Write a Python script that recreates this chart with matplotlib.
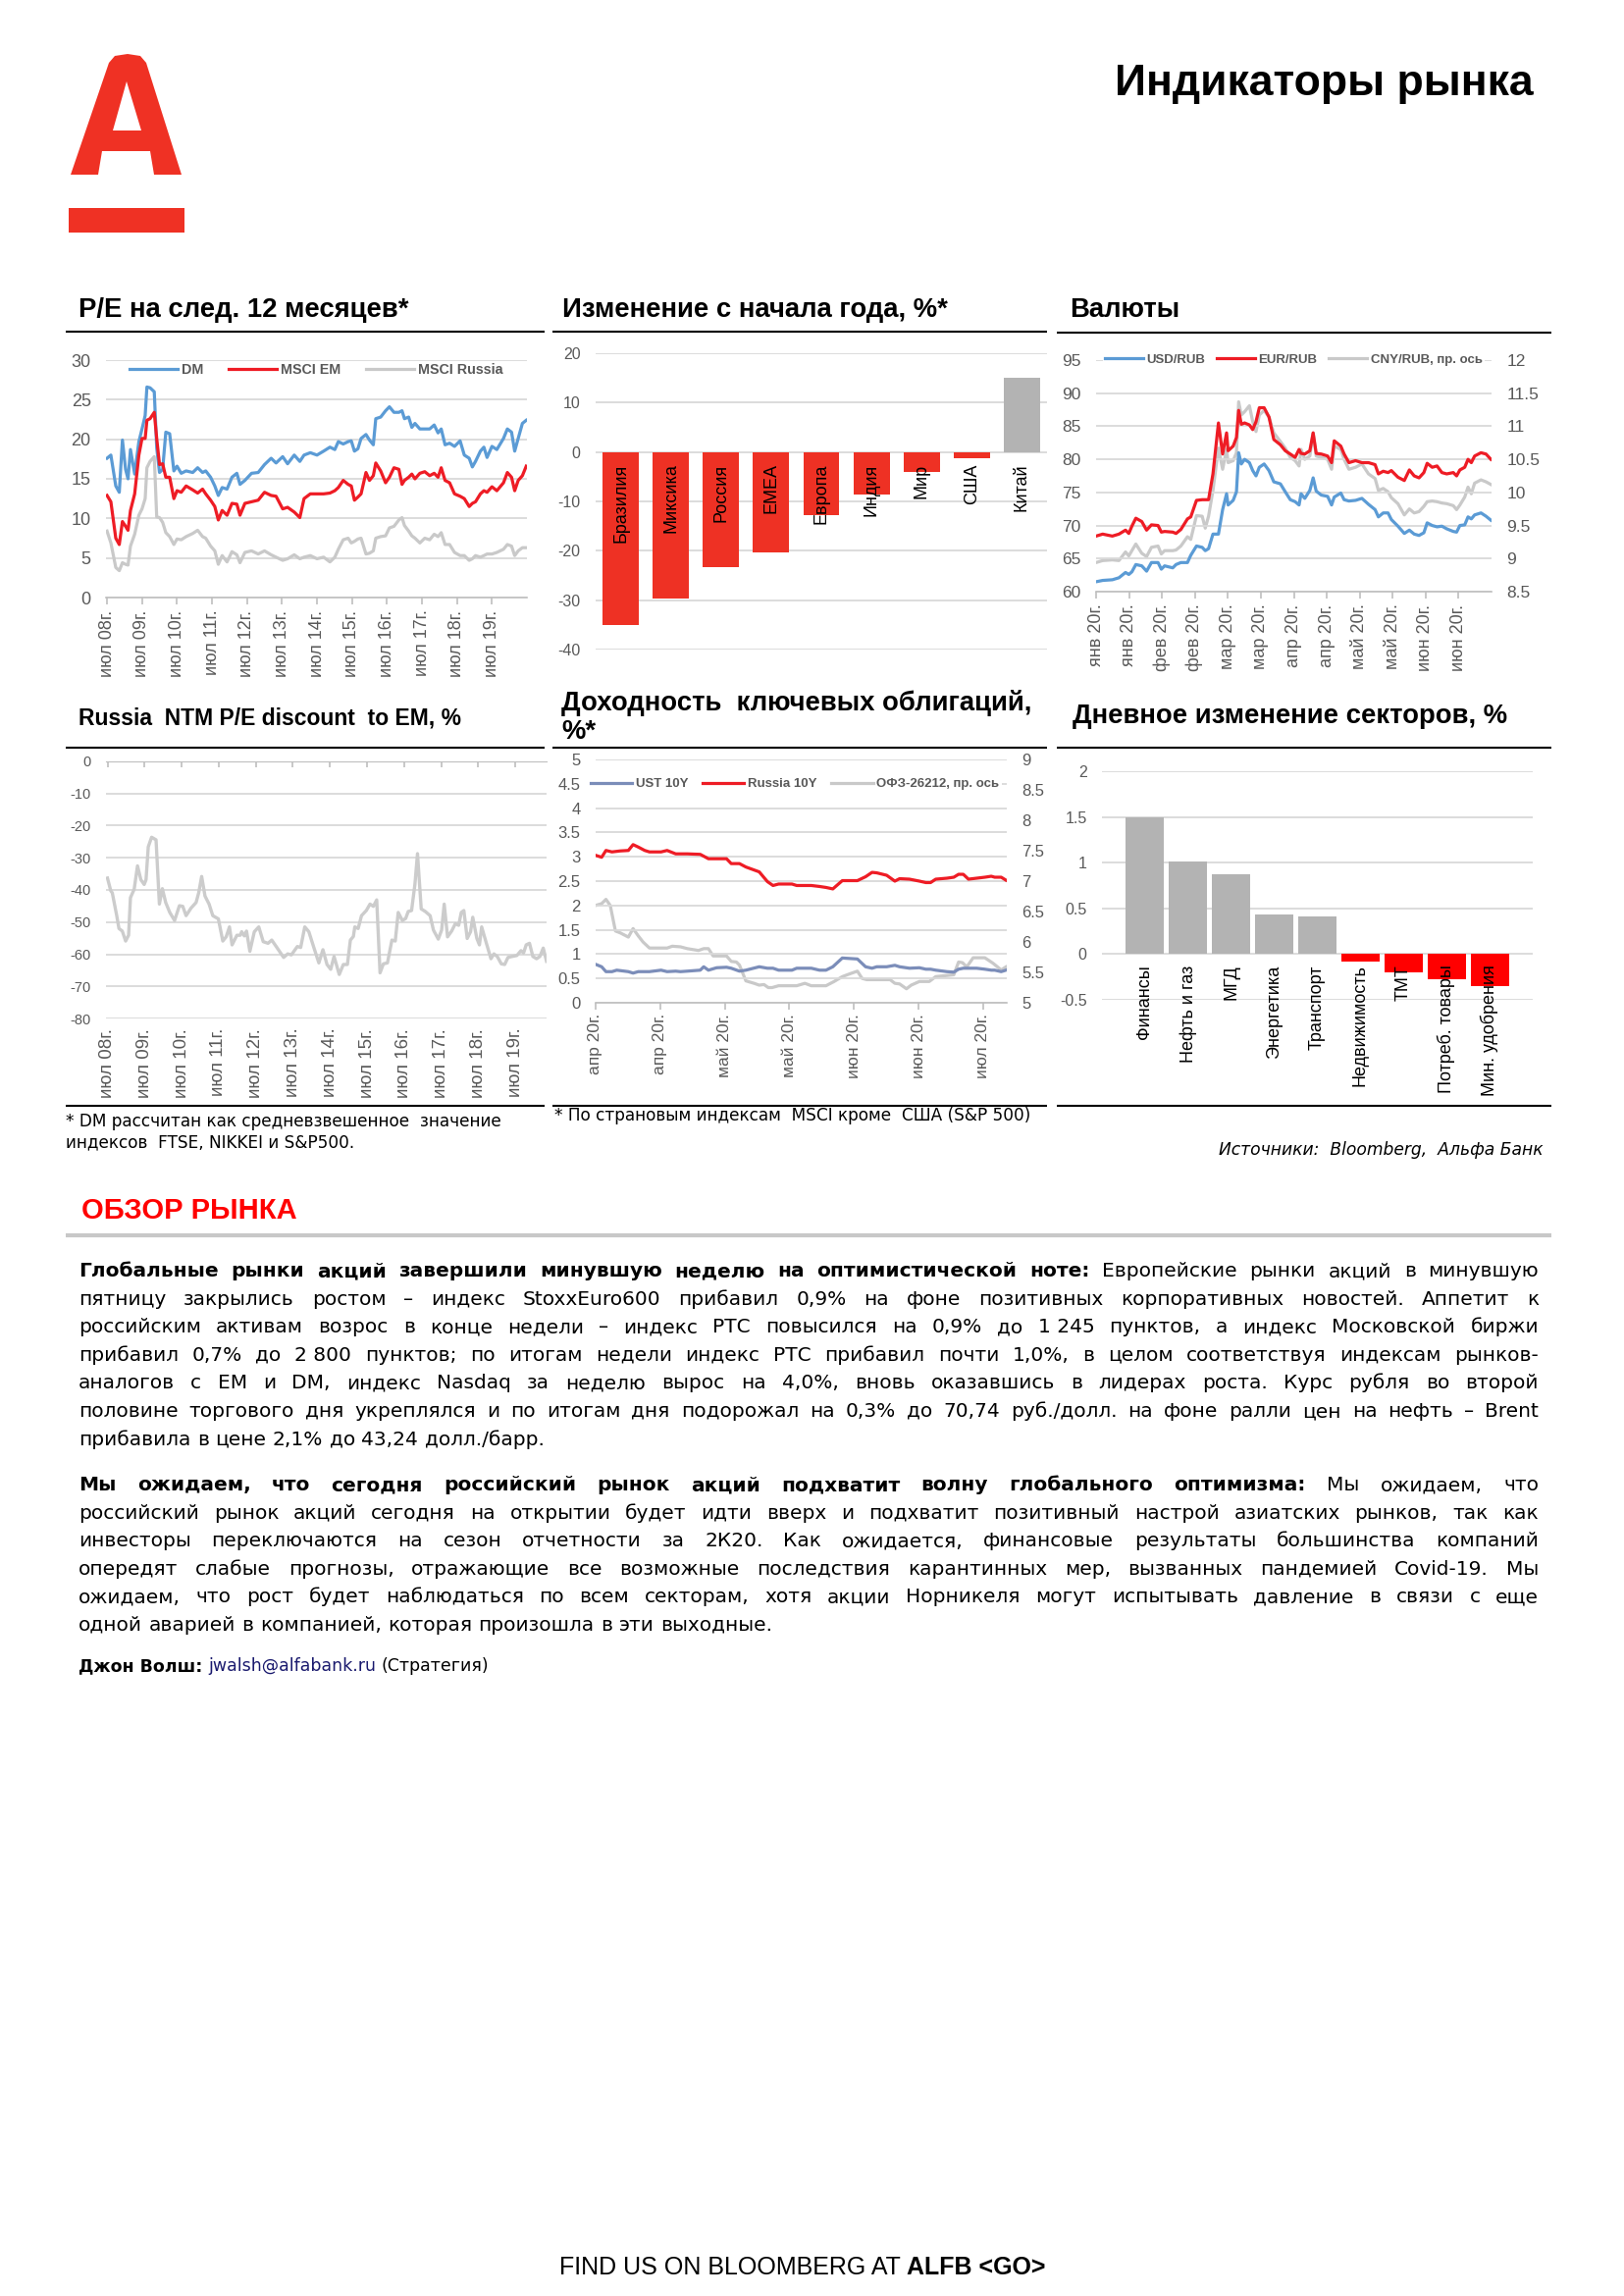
import numpy as np
import matplotlib
matplotlib.use('Agg')
import matplotlib.pyplot as plt
from matplotlib.patches import Polygon
from matplotlib.ticker import FuncFormatter

plt.rcParams['font.family'] = ['Liberation Sans', 'DejaVu Sans']

# ---------------- data ----------------
year_ticks = [2008.5, 2009.5, 2010.5, 2011.5, 2012.5, 2013.5, 2014.5, 2015.5, 2016.5, 2017.5, 2018.5, 2019.5]
year_labels = ['июл 08г.', 'июл 09г.', 'июл 10г.', 'июл 11г.', 'июл 12г.', 'июл 13г.',
               'июл 14г.', 'июл 15г.', 'июл 16г.', 'июл 17г.', 'июл 18г.', 'июл 19г.']

# P/E next 12 months
pe_year = [2008.50, 2008.61, 2008.75, 2008.85, 2008.94, 2009.03, 2009.10, 2009.17, 2009.29, 2009.41,
           2009.50, 2009.59, 2009.64, 2009.73, 2009.85, 2009.92, 2010.00, 2010.09, 2010.18, 2010.29,
           2010.41, 2010.50, 2010.62, 2010.76, 2010.95, 2011.09, 2011.23, 2011.32, 2011.46, 2011.58,
           2011.68, 2011.79, 2011.93, 2012.07, 2012.21, 2012.30, 2012.44, 2012.63, 2012.82, 2013.00,
           2013.19, 2013.33, 2013.52, 2013.66, 2013.85, 2014.01, 2014.13, 2014.31, 2014.50, 2014.69,
           2014.87, 2015.01, 2015.11, 2015.25, 2015.39, 2015.48, 2015.57, 2015.67, 2015.76, 2015.90,
           2016.00, 2016.11, 2016.18, 2016.32, 2016.46, 2016.57, 2016.70, 2016.84, 2016.93, 2017.00,
           2017.12, 2017.21, 2017.30, 2017.44, 2017.58, 2017.72, 2017.85, 2017.96, 2018.05, 2018.16,
           2018.29, 2018.43, 2018.59, 2018.71, 2018.85, 2018.94, 2019.03, 2019.17, 2019.27, 2019.36,
           2019.50, 2019.64, 2019.83, 2019.94, 2020.06, 2020.15, 2020.25, 2020.37, 2020.48]
pe_dm = [17.6, 18.0, 14.1, 13.3, 19.9, 16.2, 15.0, 18.7, 15.6, 19.7,
         21.3, 23.0, 26.6, 26.5, 26.0, 18.9, 15.8, 16.2, 20.9, 20.7,
         16.0, 16.6, 15.7, 16.0, 15.8, 16.4, 15.8, 16.0, 15.2, 14.1,
         12.9, 13.9, 13.7, 15.2, 15.7, 14.3, 14.8, 15.7, 15.8, 16.8,
         17.6, 17.0, 17.8, 16.9, 18.0, 17.2, 18.0, 18.3, 18.0, 18.5,
         19.0, 18.7, 19.7, 19.4, 19.7, 19.8, 18.5, 18.8, 20.1, 20.6,
         19.9, 19.3, 22.6, 22.8, 23.6, 24.1, 23.4, 23.4, 23.6, 22.6,
         22.8, 21.5, 22.0, 21.3, 21.3, 21.3, 21.8, 20.8, 21.3, 19.3,
         19.5, 19.1, 19.8, 18.0, 17.6, 16.5, 17.2, 18.5, 19.0, 17.7,
         19.1, 18.7, 20.1, 21.3, 20.9, 18.5, 20.1, 22.0, 22.4]
pe_em = [12.9, 12.1, 7.5, 6.7, 9.6, 9.0, 8.5, 11.0, 13.1, 18.0,
         20.1, 20.1, 22.4, 22.6, 23.4, 20.1, 16.8, 16.9, 15.2, 15.2,
         12.5, 13.5, 13.3, 14.1, 13.6, 13.2, 13.7, 13.1, 12.3, 11.5,
         9.8, 11.0, 10.4, 11.9, 11.8, 10.4, 11.9, 12.1, 12.3, 13.3,
         12.9, 12.8, 11.2, 11.4, 10.8, 10.1, 12.5, 13.1, 13.1, 13.1,
         13.2, 13.5, 13.9, 14.8, 14.3, 14.1, 12.3, 12.7, 13.1, 15.8,
         14.8, 15.4, 17.0, 16.0, 14.5, 15.2, 16.4, 16.2, 14.3, 14.8,
         15.2, 15.6, 15.0, 15.7, 15.9, 15.4, 15.7, 15.2, 16.4, 14.8,
         14.5, 13.1, 12.8, 12.5, 11.5, 11.9, 12.1, 13.1, 13.5, 13.3,
         14.0, 13.5, 14.5, 15.8, 15.2, 13.5, 14.8, 15.4, 16.6]
pe_ru = [8.4, 6.9, 3.8, 3.4, 4.4, 4.2, 4.1, 6.5, 8.0, 10.4,
         11.2, 12.5, 16.4, 17.2, 17.8, 10.2, 10.1, 9.5, 8.2, 7.7,
         6.7, 7.4, 7.3, 7.7, 8.1, 8.5, 7.7, 7.5, 6.5, 5.9,
         4.2, 5.3, 4.5, 5.8, 5.4, 4.4, 5.7, 5.9, 5.5, 5.9,
         5.4, 5.1, 4.7, 4.9, 5.4, 4.9, 5.1, 5.3, 4.9, 5.1,
         4.5, 5.1, 6.1, 7.3, 7.5, 6.9, 7.1, 7.4, 7.5, 5.5,
         5.6, 5.9, 7.5, 7.7, 7.8, 8.8, 9.0, 9.8, 10.1, 9.1,
         8.4, 7.8, 7.5, 6.9, 7.5, 7.3, 8.0, 7.7, 8.2, 6.7,
         6.7, 5.7, 5.3, 5.3, 4.7, 4.9, 5.3, 5.1, 5.3, 5.5,
         5.5, 5.7, 6.1, 6.7, 6.5, 5.3, 5.9, 6.3, 6.3]

# YTD change, %
ytd_labels = ['Бразилия', 'Миксика', 'Россия', 'EMEA', 'Европа', 'Индия', 'Мир', 'США', 'Китай']
ytd_values = [-35.0, -29.7, -23.3, -20.3, -12.7, -8.7, -4.1, -1.3, 15.1]

# currencies, days since 15 Jan 2020
fx_ticks = [0, 15, 30, 45, 60, 75, 90, 105, 120, 135, 150, 165]
fx_labels = ['янв 20г.', 'янв 20г.', 'фев 20г.', 'фев 20г.', 'мар 20г.', 'мар 20г.',
             'апр 20г.', 'апр 20г.', 'май 20г.', 'май 20г.', 'июн 20г.', 'июн 20г.']
fx_day = [0.0, 3.0, 7.4, 10.4, 13.4, 14.9, 16.3, 18.1, 20.8, 23.0,
          25.2, 28.2, 29.7, 31.2, 34.9, 36.4, 38.6, 41.6, 43.1, 45.7,
          48.3, 49.7, 51.2, 53.2, 55.7, 57.6, 59.4, 60.1, 62.4, 63.9,
          64.9, 66.1, 67.6, 69.8, 71.3, 72.8, 74.3, 76.5, 78.7, 80.9,
          83.9, 86.1, 88.4, 90.6, 92.4, 93.3, 95.0, 97.3, 98.8, 100.2,
          102.5, 105.4, 107.2, 108.4, 111.4, 112.9, 115.1, 118.1, 121.0, 124.0,
          127.0, 128.5, 130.7, 132.9, 134.4, 137.4, 140.3, 142.6, 144.8, 147.0,
          149.2, 150.7, 153.0, 155.2, 157.4, 159.6, 162.6, 164.1, 165.6, 167.8,
          169.3, 170.8, 172.3, 175.2, 177.5, 179.7]
usd_rub = [61.5, 61.7, 61.8, 62.1, 62.9, 62.6, 63.0, 64.1, 63.9, 63.1,
           64.4, 64.4, 63.4, 63.9, 63.6, 64.1, 64.4, 64.4, 65.5, 66.9,
           66.7, 66.2, 66.5, 68.7, 68.7, 72.4, 74.8, 73.1, 73.8, 75.1,
           81.0, 79.3, 80.0, 79.5, 78.3, 77.5, 78.8, 79.3, 78.3, 76.6,
           76.3, 75.1, 73.9, 73.6, 73.1, 74.8, 74.1, 75.3, 77.2, 75.2,
           74.6, 74.4, 73.1, 74.3, 74.9, 73.9, 73.7, 73.8, 74.1, 73.2,
           72.4, 71.3, 71.9, 71.9, 70.9, 69.9, 68.8, 69.3, 68.7, 68.5,
           68.9, 70.4, 70.0, 69.8, 69.9, 69.5, 69.1, 69.0, 70.0, 70.1,
           71.3, 71.0, 71.6, 71.9, 71.4, 70.8]
eur_rub = [68.4, 68.7, 68.4, 68.7, 69.3, 68.8, 69.9, 71.1, 70.6, 69.3,
           70.1, 70.0, 69.0, 69.1, 69.0, 68.8, 69.4, 71.0, 71.3, 73.8,
           73.9, 73.9, 73.9, 77.8, 85.5, 80.8, 84.0, 81.3, 82.0, 83.3,
           87.4, 85.3, 85.5, 85.2, 84.5, 85.7, 87.8, 87.8, 86.4, 83.0,
           82.2, 81.3, 80.8, 80.3, 81.5, 80.9, 80.8, 81.3, 84.0, 80.9,
           80.8, 80.5, 79.5, 82.8, 82.0, 80.8, 79.5, 79.8, 79.5, 79.5,
           79.2, 77.8, 78.2, 78.0, 78.3, 77.3, 76.8, 78.4, 77.5, 77.2,
           78.0, 79.4, 78.8, 79.0, 78.0, 77.8, 78.0, 77.5, 78.4, 78.8,
           80.0, 79.5, 80.5, 81.0, 80.8, 80.0]
cny_rub = [8.94, 8.97, 8.98, 8.97, 9.10, 9.04, 9.12, 9.22, 9.08, 9.03,
           9.17, 9.19, 9.07, 9.12, 9.12, 9.13, 9.19, 9.33, 9.29, 9.65,
           9.64, 9.46, 9.64, 10.03, 10.67, 10.35, 10.65, 10.45, 10.48, 10.60,
           11.37, 11.17, 11.22, 11.31, 11.07, 10.92, 11.17, 11.24, 11.14, 10.90,
           10.77, 10.67, 10.53, 10.48, 10.40, 10.65, 10.50, 10.55, 10.90, 10.55,
           10.53, 10.50, 10.35, 10.70, 10.65, 10.50, 10.35, 10.38, 10.43, 10.28,
           10.21, 10.03, 10.06, 10.01, 9.92, 9.83, 9.66, 9.75, 9.69, 9.71,
           9.79, 9.86, 9.87, 9.86, 9.84, 9.83, 9.80, 9.74, 9.81, 9.93,
           10.08, 9.98, 10.14, 10.19, 10.16, 10.12]

# Russia NTM P/E discount to EM, %
disc_year = [2008.50, 2008.59, 2008.63, 2008.75, 2008.81, 2008.90, 2008.99, 2009.07, 2009.12, 2009.22,
             2009.31, 2009.40, 2009.49, 2009.54, 2009.60, 2009.69, 2009.81, 2009.90, 2009.98, 2010.07,
             2010.18, 2010.31, 2010.44, 2010.53, 2010.62, 2010.75, 2010.89, 2010.96, 2011.04, 2011.13,
             2011.24, 2011.34, 2011.49, 2011.61, 2011.70, 2011.79, 2011.86, 2011.99, 2012.08, 2012.12,
             2012.19, 2012.25, 2012.34, 2012.46, 2012.58, 2012.70, 2012.83, 2012.93, 2013.05, 2013.25,
             2013.36, 2013.46, 2013.62, 2013.71, 2013.82, 2013.93, 2014.07, 2014.20, 2014.31, 2014.42,
             2014.52, 2014.61, 2014.75, 2014.86, 2014.97, 2015.05, 2015.13, 2015.17, 2015.26, 2015.35,
             2015.48, 2015.58, 2015.67, 2015.76, 2015.85, 2015.94, 2016.05, 2016.17, 2016.26, 2016.34,
             2016.45, 2016.54, 2016.61, 2016.70, 2016.79, 2016.86, 2016.96, 2017.07, 2017.20, 2017.29,
             2017.42, 2017.51, 2017.58, 2017.67, 2017.78, 2017.88, 2017.97, 2018.04, 2018.11, 2018.20,
             2018.29, 2018.35, 2018.46, 2018.53, 2018.59, 2018.70, 2018.84, 2018.92, 2019.01, 2019.12,
             2019.21, 2019.30, 2019.41, 2019.54, 2019.65, 2019.72, 2019.79, 2019.88, 2019.97, 2020.07,
             2020.16, 2020.25, 2020.34]
disc_values = [-36.3, -40.3, -40.9, -48.0, -52.0, -52.8, -55.9, -54.1, -42.4, -39.8,
               -32.5, -36.8, -38.3, -36.8, -26.6, -23.6, -24.4, -44.4, -39.6, -43.9,
               -47.0, -49.5, -44.9, -45.1, -48.0, -45.7, -43.9, -40.9, -35.8, -41.9,
               -44.4, -48.0, -49.0, -55.9, -54.6, -51.5, -57.1, -54.1, -54.1, -53.0,
               -54.3, -52.8, -59.1, -53.0, -51.5, -56.1, -56.6, -55.6, -57.6, -61.0,
               -59.9, -60.2, -57.6, -57.9, -51.5, -53.0, -58.1, -62.7, -58.6, -63.2,
               -64.7, -60.7, -66.3, -63.2, -63.2, -55.6, -54.5, -51.5, -52.0, -48.0,
               -46.4, -44.4, -45.1, -43.1, -65.8, -63.0, -62.7, -55.6, -55.9, -47.0,
               -49.5, -48.9, -46.7, -46.4, -38.3, -28.7, -45.9, -46.7, -48.0, -52.5,
               -55.3, -52.5, -44.4, -54.6, -52.8, -50.5, -51.0, -47.0, -46.4, -55.1,
               -53.0, -48.5, -55.1, -57.1, -51.5, -55.9, -61.4, -59.9, -60.7, -63.0,
               -63.2, -61.0, -60.7, -60.4, -58.9, -59.6, -57.1, -56.6, -60.7, -61.4,
               -60.7, -58.1, -62.2]

# bond yields, days since 7 Apr 2020
bond_ticks = [0, 15, 30, 45, 60, 75, 90]
bond_labels = ['апр 20г.', 'апр 20г.', 'май 20г.', 'май 20г.', 'июн 20г.', 'июн 20г.', 'июл 20г.']
ust_day = [0.0, 1.4, 2.4, 3.8, 4.9, 7.6, 8.7, 9.9, 12.5, 15.2,
           16.6, 18.6, 19.7, 21.3, 24.3, 25.1, 26.2, 28.1, 30.4, 31.5,
           33.4, 34.9, 38.0, 39.9, 41.2, 42.5, 45.6, 46.7, 50.1, 52.0,
           53.5, 55.1, 57.3, 60.8, 62.7, 64.2, 65.3, 67.6, 69.5, 70.6,
           72.9, 75.2, 76.7, 77.8, 79.0, 81.6, 83.2, 84.3, 85.4, 86.6,
           88.5, 90.4, 91.9, 92.7, 94.2, 95.3]
ust_10y = [0.79, 0.74, 0.64, 0.64, 0.67, 0.64, 0.61, 0.64, 0.64, 0.67,
           0.64, 0.65, 0.64, 0.65, 0.67, 0.74, 0.67, 0.72, 0.73, 0.71,
           0.65, 0.67, 0.74, 0.71, 0.71, 0.67, 0.67, 0.71, 0.71, 0.67,
           0.67, 0.74, 0.92, 0.90, 0.74, 0.71, 0.74, 0.74, 0.77, 0.74,
           0.71, 0.72, 0.69, 0.69, 0.67, 0.64, 0.63, 0.69, 0.71, 0.71,
           0.71, 0.69, 0.67, 0.67, 0.64, 0.67]
rus_day = [0.0, 1.4, 2.4, 3.8, 5.7, 7.6, 8.7, 9.9, 11.4, 12.5,
           15.2, 16.6, 18.6, 21.3, 24.3, 26.2, 28.1, 30.4, 31.5, 33.4,
           34.9, 38.0, 39.9, 41.2, 42.5, 45.6, 46.7, 50.1, 52.0, 53.5,
           55.1, 57.3, 60.8, 62.7, 64.2, 65.3, 67.6, 69.5, 70.6, 72.9,
           75.2, 76.7, 77.8, 79.0, 81.6, 83.2, 84.3, 85.4, 86.6, 88.5,
           90.4, 91.9, 92.7, 94.2, 95.3]
rus_10y = [3.03, 2.99, 3.13, 3.10, 3.12, 3.13, 3.25, 3.20, 3.13, 3.10,
           3.10, 3.13, 3.06, 3.06, 3.05, 2.96, 2.96, 2.96, 2.86, 2.86,
           2.79, 2.69, 2.49, 2.41, 2.44, 2.44, 2.41, 2.41, 2.39, 2.37,
           2.34, 2.51, 2.51, 2.59, 2.68, 2.67, 2.62, 2.50, 2.55, 2.54,
           2.50, 2.47, 2.47, 2.54, 2.56, 2.58, 2.64, 2.64, 2.54, 2.56,
           2.58, 2.60, 2.58, 2.58, 2.52]
ofz_day = [0.0, 1.4, 2.4, 3.4, 4.6, 5.7, 7.6, 8.7, 9.9, 11.0,
           12.5, 15.2, 16.6, 17.8, 19.7, 21.3, 23.9, 25.1, 26.2, 27.3,
           30.4, 31.5, 32.7, 33.4, 34.9, 36.8, 38.0, 39.1, 40.1, 41.0,
           42.5, 46.7, 48.6, 50.1, 53.5, 55.4, 57.3, 59.2, 60.8, 61.9,
           63.0, 65.3, 68.4, 69.5, 70.6, 72.2, 73.3, 75.2, 77.5, 79.0,
           83.2, 84.3, 85.2, 86.2, 87.7, 90.4, 92.3, 94.2, 95.3]
ofz_26212 = [6.60, 6.63, 6.70, 6.60, 6.18, 6.15, 6.08, 6.22, 6.10, 6.00,
             5.90, 5.90, 5.90, 5.93, 5.92, 5.89, 5.86, 5.89, 5.89, 5.77,
             5.77, 5.68, 5.67, 5.62, 5.36, 5.32, 5.29, 5.30, 5.25, 5.25,
             5.28, 5.28, 5.32, 5.28, 5.28, 5.35, 5.43, 5.48, 5.52, 5.40,
             5.38, 5.38, 5.38, 5.32, 5.31, 5.23, 5.29, 5.35, 5.35, 5.43,
             5.46, 5.67, 5.66, 5.59, 5.74, 5.74, 5.65, 5.54, 5.59]

# daily sector change, %
sector_labels = ['Финансы', 'Нефть и газ', 'МГД', 'Энергетика', 'Транспорт',
                 'Недвижимость', 'ТМТ', 'Потреб. товары', 'Мин. удобрения']
sector_values = [1.50, 1.01, 0.87, 0.43, 0.41, -0.08, -0.20, -0.28, -0.35]

# text
para1_lines = [
    "Глобальные рынки акций завершили минувшую неделю на оптимистической ноте: Европейские рынки акций в минувшую",
    "пятницу закрылись ростом – индекс StoxxEuro600 прибавил 0,9% на фоне позитивных корпоративных новостей. Аппетит к",
    "российским активам возрос в конце недели – индекс РТС повысился на 0,9% до 1\u00a0245 пунктов, а индекс Московской биржи",
    "прибавил 0,7% до 2\u00a0800 пунктов; по итогам недели индекс РТС прибавил почти 1,0%, в целом соответствуя индексам рынков-",
    "аналогов с EM и DM, индекс Nasdaq за неделю вырос на 4,0%, вновь оказавшись в лидерах роста. Курс рубля во второй",
    "половине торгового дня укреплялся и по итогам дня подорожал на 0,3% до 70,74 руб./долл. на фоне ралли цен на нефть – Brent",
    "прибавила в цене 2,1% до 43,24 долл./барр.",
]
para2_lines = [
    "Мы ожидаем, что сегодня российский рынок акций подхватит волну глобального оптимизма: Мы ожидаем, что",
    "российский рынок акций сегодня на открытии будет идти вверх и подхватит позитивный настрой азиатских рынков, так как",
    "инвесторы переключаются на сезон отчетности за 2К20. Как ожидается, финансовые результаты большинства компаний",
    "опередят слабые прогнозы, отражающие все возможные последствия карантинных мер, вызванных пандемией Covid-19. Мы",
    "ожидаем, что рост будет наблюдаться по всем секторам, хотя акции Норникеля могут испытывать давление в связи с еще",
    "одной аварией в компанией, которая произошла в эти выходные.",
]

# ---------------- styles ----------------
BLUE = '#5B9BD5'
RED = '#EE1C25'
LGRAY = '#C9C9C9'
SLATE = '#7B8DB9'
GRID = '#D9D9D9'
AXC = '#BFBFBF'
TXT = '#595959'
BARGRAY = '#B3B3B3'
WIDE = ['DejaVu Sans']

W, H = 1655, 2340
fig = plt.figure(figsize=(W / 100, H / 100), dpi=100)
bg = fig.add_axes([0, 0, 1, 1], zorder=-1)
bg.set_xlim(0, W)
bg.set_ylim(H, 0)
bg.axis('off')

fmt = FuncFormatter(lambda v, p: f'{v:g}')


def box(x0, y0, x1, y1):
    return [x0 / W, 1 - y1 / H, (x1 - x0) / W, (y1 - y0) / H]


def base(ax, ylim, yticks, ysize):
    ax.set_ylim(*ylim)
    ax.set_yticks(yticks)
    ax.yaxis.set_major_formatter(fmt)
    ax.grid(axis='y', color=GRID, lw=1.3)
    ax.set_axisbelow(True)
    for s in ax.spines.values():
        s.set_visible(False)
    ax.tick_params(axis='y', length=0, labelsize=ysize, labelcolor=TXT, pad=11)
    ax.patch.set_visible(False)


def date_axis(ax, ticks, labels, size, pad):
    ax.set_xticks(ticks)
    ax.set_xticklabels(labels, rotation=90, fontsize=size, color=TXT)
    ax.spines['bottom'].set_visible(True)
    ax.spines['bottom'].set_color(AXC)
    ax.spines['bottom'].set_linewidth(1.2)
    ax.tick_params(axis='x', length=5, width=1.2, color=AXC, pad=pad)


def right_axis(ax, ylim, yticks, ysize):
    r = ax.twinx()
    r.set_ylim(*ylim)
    r.set_yticks(yticks)
    r.yaxis.set_major_formatter(fmt)
    for s in r.spines.values():
        s.set_visible(False)
    r.tick_params(axis='y', length=0, labelsize=ysize, labelcolor=TXT, pad=11)
    return r


def legend(ax, handles, labels, x, y, hl, cs, size=9.5, frame=False):
    lg = ax.legend(handles, labels, loc='center', bbox_to_anchor=(x, y), ncol=len(handles),
                   frameon=frame, handlelength=hl, handletextpad=0.3, columnspacing=cs,
                   prop={'weight': 'bold', 'size': size}, labelcolor=TXT, borderpad=0.2)
    if frame:
        lg.get_frame().set_facecolor('white')
        lg.get_frame().set_edgecolor('none')
        lg.get_frame().set_alpha(1)
    return lg


# ---------------- header ----------------
bg.add_patch(Polygon([(72, 178), (100, 178), (104, 154), (153, 154), (157, 178), (185, 178),
                      (149, 64), (143, 57), (130, 55), (117, 57), (111, 64)],
                     closed=True, color='#EF3124', lw=0))
bg.add_patch(Polygon([(129, 83), (115, 133), (144, 133)], closed=True, color='white', lw=0))
bg.add_patch(Polygon([(70, 212), (188, 212), (188, 237), (70, 237)], closed=True, color='#EF3124', lw=0))
bg.text(1563, 97, 'Индикаторы рынка', fontsize=32, fontweight='bold', ha='right', va='baseline')

# section titles and rules
titles = [(80, 323, 'P/E на след. 12 месяцев*'),
          (573, 323, 'Изменение с начала года, %*'),
          (1090, 323, 'Валюты'),
          (572, 724, 'Доходность  ключевых облигаций,'),
          (572, 753, '%*'),
          (1093, 737, 'Дневное изменение секторов, %')]
for x, y, s in titles:
    bg.text(x, y, s, fontsize=19.8, fontweight='bold', va='baseline')
bg.text(80, 738, 'Russia  NTM P/E discount  to EM, %', fontsize=16.5, fontweight='bold', va='baseline')

rules = [(338, 67, 555), (338, 563, 1067), (339, 1077, 1581),
         (762, 67, 555), (762, 563, 1067), (762, 1077, 1581),
         (1127, 67, 555), (1127, 563, 1067), (1127, 1077, 1581)]
for y, x0, x1 in rules:
    bg.plot([x0, x1], [y, y], color='black', lw=1.5, solid_capstyle='butt')

# ---------------- chart 1: P/E ----------------
ax1 = fig.add_axes(box(108, 367, 537, 609))
l1, = ax1.plot(pe_year, pe_dm, color=BLUE, lw=2.3)
l2, = ax1.plot(pe_year, pe_em, color=RED, lw=2.3)
l3, = ax1.plot(pe_year, pe_ru, color=LGRAY, lw=2.3)
base(ax1, (0, 30), [0, 5, 10, 15, 20, 25, 30], 13)
ax1.set_xlim(2008.47, 2020.5)
date_axis(ax1, year_ticks, year_labels, 13, 4)
legend(ax1, [l1, l2, l3], ['DM', 'MSCI EM', 'MSCI Russia'], 0.5, 0.959, 3.4, 1.8, size=10.3)

# ---------------- chart 2: YTD ----------------
ax2 = fig.add_axes(box(607, 360, 1067, 662))
pos2 = np.arange(len(ytd_labels))
ax2.bar(pos2, ytd_values, width=0.72,
        color=[BARGRAY if v > 0 else '#EE3124' for v in ytd_values], zorder=2)
base(ax2, (-40, 20), [-40, -30, -20, -10, 0, 10, 20], 11.5)
ax2.set_xlim(-0.5, len(ytd_labels) - 0.5)
ax2.set_xticks([])
for p, lab in zip(pos2, ytd_labels):
    ax2.annotate(lab, (p, 0), xytext=(0, -8.5), textcoords='offset points', rotation=90,
                 ha='center', va='top', fontsize=13, zorder=3)

# ---------------- chart 3: currencies ----------------
ax3 = fig.add_axes(box(1117, 367, 1520, 603))
m1, = ax3.plot(fx_day, usd_rub, color=BLUE, lw=2.3)
m2, = ax3.plot(fx_day, eur_rub, color=RED, lw=2.3)
base(ax3, (60, 95), [60, 65, 70, 75, 80, 85, 90, 95], 12.5)
ax3.set_xlim(0, 180)
date_axis(ax3, fx_ticks, fx_labels, 13, 4)
ax3r = right_axis(ax3, (8.5, 12), [8.5, 9, 9.5, 10, 10.5, 11, 11.5, 12], 12.5)
m3, = ax3r.plot(fx_day, cny_rub, color=LGRAY, lw=2.3)
ax3r.set_zorder(ax3.get_zorder() - 0.5)
ax3.set_zorder(ax3r.get_zorder() + 1)
legend(ax3, [m1, m2, m3], ['USD/RUB', 'EUR/RUB', 'CNY/RUB, пр. ось'], 0.5, 1.0, 2.9, 0.9, frame=True)

# ---------------- chart 4: discount ----------------
ax4 = fig.add_axes(box(108, 776, 557, 1038))
ax4.plot(disc_year, disc_values, color='#CCCCCC', lw=2.4)
base(ax4, (-80, 0), [-80, -70, -60, -50, -40, -30, -20, -10, 0], 10.5)
ax4.set_xlim(2008.46, 2020.34)
ax4.set_xticks(year_ticks)
ax4.set_xticklabels(year_labels, rotation=90, fontsize=13.5, color=TXT)
ax4.spines['top'].set_visible(True)
ax4.spines['top'].set_color(AXC)
ax4.tick_params(axis='x', top=True, bottom=False, labeltop=False, labelbottom=True,
                direction='in', length=4, width=1.2, color=AXC, pad=7)

# ---------------- chart 5: bonds ----------------
ax5 = fig.add_axes(box(607, 774, 1026, 1022))
n1, = ax5.plot(ust_day, ust_10y, color=SLATE, lw=2.3)
n2, = ax5.plot(rus_day, rus_10y, color=RED, lw=2.3)
base(ax5, (0, 5), [0, 0.5, 1, 1.5, 2, 2.5, 3, 3.5, 4, 4.5, 5], 12)
ax5.set_xlim(0, 95.5)
date_axis(ax5, bond_ticks, bond_labels, 12.5, 3)
ax5r = right_axis(ax5, (5, 9), [5, 5.5, 6, 6.5, 7, 7.5, 8, 8.5, 9], 12)
n3, = ax5r.plot(ofz_day, ofz_26212, color=LGRAY, lw=2.3)
ax5r.set_zorder(ax5.get_zorder() - 0.5)
ax5.set_zorder(ax5r.get_zorder() + 1)
legend(ax5, [n1, n2, n3], ['UST 10Y', 'Russia 10Y', 'ОФЗ-26212, пр. ось'], 0.485, 0.899, 3.2, 1.1, frame=True)

# ---------------- chart 6: sectors ----------------
ax6 = fig.add_axes(box(1123, 786, 1562, 1019))
pos6 = np.arange(len(sector_labels))
ax6.bar(pos6, sector_values, width=0.89,
        color=[BARGRAY if v > 0 else '#FF0000' for v in sector_values], zorder=2)
base(ax6, (-0.5, 2), [-0.5, 0, 0.5, 1, 1.5, 2], 11.5)
ax6.set_xlim(-1, len(sector_labels))
ax6.set_xticks([])
for p, lab in zip(pos6, sector_labels):
    ax6.annotate(lab, (p, 0), xytext=(0, -8), textcoords='offset points', rotation=90,
                 ha='center', va='top', fontsize=13, zorder=3)

# footnotes
bg.text(67, 1143, '* DM рассчитан как средневзвешенное  значение', fontsize=12.2, va='center', family=WIDE)
bg.text(67, 1164, 'индексов  FTSE, NIKKEI и S&P500.', fontsize=12.2, va='center', family=WIDE)
bg.text(565, 1137, '* По страновым индексам  MSCI кроме  США (S&P 500)', fontsize=12.2, va='center', family=WIDE)
bg.text(1573, 1172, 'Источники:  Bloomberg,  Альфа Банк', fontsize=12.3, style='italic',
        ha='right', va='center', family=WIDE)

# ---------------- market review ----------------
bg.text(83, 1242, 'ОБЗОР РЫНКА', fontsize=21, fontweight='bold', color='#FF0000', va='baseline')
bg.plot([67, 1581], [1259, 1259], color='#C8C8C8', lw=3, solid_capstyle='butt')

renderer = fig.canvas.get_renderer()
BODY = 14.5
X0, X1 = 80, 1568


def put_line(words, y, justify, size=BODY):
    items = []
    for w, bold, color in words:
        items.append(bg.text(X0, y, w, fontsize=size, fontweight='bold' if bold else 'normal',
                             color=color, va='baseline', ha='left', family=WIDE))
    widths = [t.get_window_extent(renderer).width for t in items]
    gap = size / 72 * 100 * 0.32
    if justify and len(items) > 1:
        gap = max((X1 - X0 - sum(widths)) / (len(items) - 1), gap * 0.8)
    x = X0
    for t, w in zip(items, widths):
        t.set_x(x)
        x += w + gap


def paragraph(lines, nbold, y0, step):
    for i, line in enumerate(lines):
        words = line.split(' ')
        flags = [(w, i == 0 and k < nbold, 'black') for k, w in enumerate(words)]
        put_line(flags, y0 + i * step, i < len(lines) - 1)


paragraph(para1_lines, 9, 1301, 28.6)
paragraph(para2_lines, 11, 1519, 28.6)

put_line([('Джон Волш:', True, 'black'), ('jwalsh@alfabank.ru', False, '#1A1A6E'),
          ('(Стратегия)', False, 'black')], 1703, False, size=12.5)

# footer
t1 = bg.text(570, 2318, 'FIND US ON BLOOMBERG AT ', fontsize=18, va='baseline')
w1 = t1.get_window_extent(renderer).width
bg.text(570 + w1, 2318, 'ALFB <GO>', fontsize=18, fontweight='bold', va='baseline')

fig.savefig('out.png', dpi=100)
